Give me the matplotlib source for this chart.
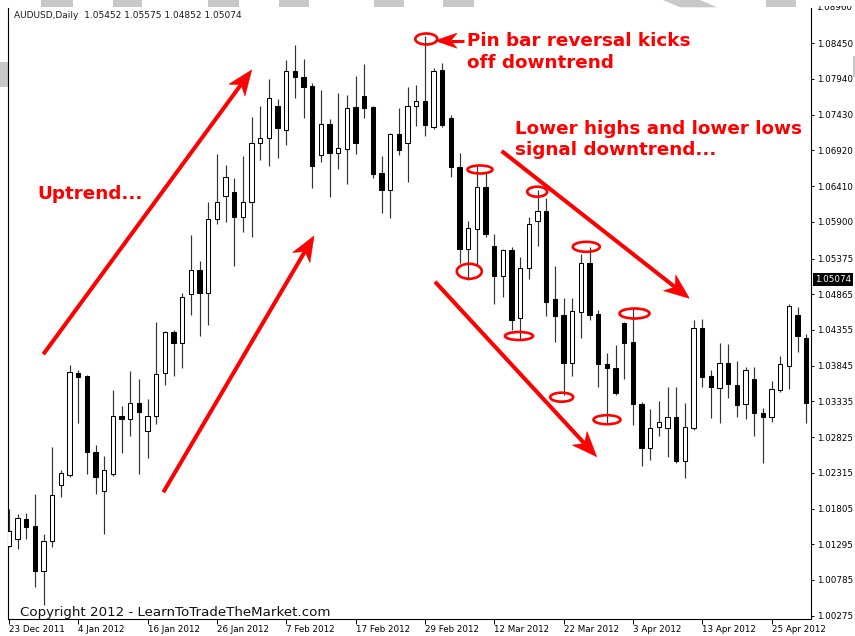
import matplotlib
matplotlib.use('Agg')
import matplotlib.pyplot as plt
from matplotlib.patches import Ellipse, Polygon, Rectangle
from matplotlib.lines import Line2D
from matplotlib.transforms import Affine2D
import numpy as np

W, H = 855, 636

# ---------------- data (AUDUSD daily) ----------------
opens = [1.01270, 1.01370, 1.01656, 1.01556, 1.00913, 1.01341, 1.02141, 1.02284, 1.03741, 1.03698,
         1.02613, 1.02056, 1.02298, 1.03127, 1.03084, 1.03312, 1.02913, 1.03127, 1.03741, 1.04326,
         1.04169, 1.04869, 1.05212, 1.04883, 1.05940, 1.06269, 1.06326, 1.05969, 1.06183, 1.07026,
         1.07097, 1.07554, 1.07211, 1.08054, 1.07968, 1.07840, 1.06854, 1.07297, 1.06883, 1.06940,
         1.07540, 1.07697, 1.07540, 1.06597, 1.06354, 1.07154, 1.07026, 1.07554, 1.07626, 1.07254,
         1.08068, 1.07383, 1.06683, 1.05512, 1.05797, 1.06397, 1.05555, 1.05126, 1.05498, 1.04526,
         1.05240, 1.05912, 1.06055, 1.04798, 1.04569, 1.03884, 1.04612, 1.05312, 1.04584, 1.03869,
         1.03812, 1.04455, 1.04184, 1.03299, 1.02670, 1.02970, 1.02955, 1.03112, 1.02484, 1.02955,
         1.04384, 1.03698, 1.03527, 1.03884, 1.03569, 1.03299, 1.03655, 1.03170, 1.03112, 1.03498,
         1.03841, 1.04569, 1.04241]
highs = [1.01799, 1.01727, 1.01741, 1.02013, 1.01441, 1.02684, 1.02356, 1.03855, 1.03784, 1.03712,
         1.02713, 1.02555, 1.03498, 1.03270, 1.03769, 1.03655, 1.03370, 1.04469, 1.04341, 1.04355,
         1.04883, 1.05712, 1.05340, 1.06183, 1.06869, 1.06712, 1.06526, 1.06840, 1.07397, 1.07554,
         1.07940, 1.07654, 1.08211, 1.08425, 1.08225, 1.07883, 1.07783, 1.07368, 1.07740, 1.07711,
         1.07983, 1.08154, 1.07554, 1.06840, 1.07169, 1.07526, 1.07826, 1.07854, 1.08554, 1.08097,
         1.08168, 1.07426, 1.06883, 1.05912, 1.06697, 1.06612, 1.05726, 1.05512, 1.05540, 1.05398,
         1.05969, 1.06354, 1.06240, 1.05269, 1.04812, 1.04812, 1.05440, 1.05540, 1.04641, 1.04027,
         1.04141, 1.04469, 1.04669, 1.03327, 1.03227, 1.03341, 1.03541, 1.03541, 1.03312, 1.04498,
         1.04512, 1.03784, 1.04169, 1.04155, 1.03912, 1.03827, 1.03827, 1.03241, 1.03627, 1.03984,
         1.04726, 1.04683, 1.04298]
lows = [1.01256, 1.01227, 1.01370, 1.00685, 1.00427, 1.01256, 1.01970, 1.02256, 1.03027, 1.02298,
        1.02013, 1.01441, 1.02270, 1.02598, 1.02841, 1.02298, 1.02527, 1.03012, 1.03569, 1.03698,
        1.03812, 1.04569, 1.04269, 1.04426, 1.05869, 1.05897, 1.05269, 1.05755, 1.05683, 1.06783,
        1.06697, 1.06811, 1.06997, 1.07668, 1.07383, 1.06383, 1.06754, 1.06254, 1.06654, 1.06440,
        1.06869, 1.07383, 1.06526, 1.06026, 1.05955, 1.06854, 1.06469, 1.07269, 1.07126, 1.07226,
        1.07254, 1.06540, 1.05312, 1.05069, 1.05269, 1.05683, 1.04726, 1.04826, 1.04355, 1.04226,
        1.05083, 1.05555, 1.04555, 1.04184, 1.03427, 1.03698, 1.04241, 1.04498, 1.03541, 1.03027,
        1.03427, 1.03655, 1.02998, 1.02413, 1.02498, 1.02841, 1.02541, 1.02455, 1.02241, 1.02927,
        1.03541, 1.03098, 1.03027, 1.03384, 1.03112, 1.03084, 1.02841, 1.02455, 1.03041, 1.03470,
        1.03512, 1.04041, 1.03027]
closes = [1.01484, 1.01670, 1.01541, 1.00913, 1.01341, 1.01998, 1.02313, 1.03755, 1.03684, 1.02613,
          1.02256, 1.02356, 1.03127, 1.03084, 1.03312, 1.03184, 1.03127, 1.03727, 1.04326, 1.04169,
          1.04826, 1.05212, 1.04883, 1.05940, 1.06183, 1.06540, 1.05969, 1.06183, 1.07026, 1.07097,
          1.07668, 1.07240, 1.08054, 1.07968, 1.07826, 1.06697, 1.07297, 1.06883, 1.06954, 1.07526,
          1.07026, 1.07526, 1.06583, 1.06354, 1.07154, 1.06926, 1.07554, 1.07626, 1.07283, 1.08054,
          1.07283, 1.06683, 1.05512, 1.05812, 1.06397, 1.05726, 1.05126, 1.05498, 1.04498, 1.05240,
          1.05869, 1.06055, 1.04755, 1.04555, 1.03884, 1.04626, 1.05312, 1.04569, 1.03869, 1.03812,
          1.03455, 1.04169, 1.03299, 1.02670, 1.02955, 1.03041, 1.03112, 1.02484, 1.02970, 1.04384,
          1.03684, 1.03541, 1.03884, 1.03584, 1.03284, 1.03784, 1.03170, 1.03112, 1.03512, 1.03869,
          1.04698, 1.04269, 1.03312]

date_labels = ['23 Dec 2011', '4 Jan 2012', '16 Jan 2012', '26 Jan 2012', '7 Feb 2012',
               '17 Feb 2012', '29 Feb 2012', '12 Mar 2012', '22 Mar 2012', '3 Apr 2012',
               '13 Apr 2012', '25 Apr 2012']
date_label_bars = [0, 8, 16, 24, 32, 40, 48, 56, 64, 72, 80, 88]
price_ticks = [1.08450, 1.07940, 1.07430, 1.06920, 1.06410, 1.05900, 1.05375, 1.04865,
               1.04355, 1.03845, 1.03335, 1.02825, 1.02315, 1.01805, 1.01295, 1.00785, 1.00275]
top_tick_label = '1.08960'
header_text = 'AUDUSD,Daily  1.05452 1.05575 1.04852 1.05074'
last_price = '1.05074'
copyright_text = 'Copyright 2012 - LearnToTradeTheMarket.com'

# ---------------- figure ----------------
fig = plt.figure(figsize=(W / 100, H / 100), dpi=100)
fig.patch.set_facecolor('white')
PX = Affine2D().scale(1 / W, -1 / H).translate(0, 1) + fig.transFigure

ax = fig.add_axes([8 / W, 1 - 619 / H, 803 / W, 611 / H])
ax.set_xlim(-0.115, 92.54)
ax.set_ylim(1.00227, 1.08954)

x = np.arange(len(opens))
o = np.array(opens); c = np.array(closes); hi = np.array(highs); lo = np.array(lows)
ax.vlines(x, lo, hi, color='#333333', lw=0.85, zorder=2)
up = c >= o
bottom = np.minimum(o, c)
height = np.abs(c - o)
ax.bar(x, height, bottom=bottom, width=0.5,
       color=np.where(up, 'white', 'black'), edgecolor='black', lw=0.75, zorder=3)

ax.spines['top'].set_visible(False)
for s in ['left', 'right', 'bottom']:
    ax.spines[s].set_linewidth(0.8)
    ax.spines[s].set_color('black')

ax.yaxis.tick_right()
ax.set_yticks(price_ticks)
ax.set_yticklabels(['%.5f' % v for v in price_ticks])
ax.tick_params(axis='y', direction='out', length=2.4, width=0.7, pad=1.6,
               labelsize=6.3, colors='black')
ax.set_xticks(date_label_bars)
ax.set_xticklabels(date_labels, ha='left')
ax.tick_params(axis='x', direction='out', length=3.4, width=0.7, pad=0.6,
               labelsize=6.3, colors='black')
ax.tick_params(axis='y', left=False)

# top (clipped) price label
fig.text(816.5 / W, 1 - 7.6 / H, top_tick_label, fontsize=6.3, va='center', ha='left')
fig.add_artist(Rectangle((812, 0), 43, 5.5, transform=PX, fc='white', ec='none', zorder=5))

# current price box
fig.text(815 / W, 1 - 279.5 / H, last_price, fontsize=6.3, va='center', ha='left', color='white',
         bbox=dict(boxstyle='square,pad=0.22', fc='black', ec='none'))

# header and copyright
fig.text(14 / W, 1 - 15.5 / H, header_text, fontsize=6.5, va='center', ha='left', color='#1a1a1a')
fig.text(20 / W, 1 - 616 / H, copyright_text, fontsize=9.6, va='baseline', ha='left', color='#111111')

# watermark fragments
grey = '#c8c8c8'
for (x0, x1) in [(40.7, 72.7), (113, 142), (208, 239), (279, 309), (374, 404), (443, 474), (766, 796)]:
    fig.add_artist(Rectangle((x0, 0), x1 - x0, 7.3, transform=PX, fc=grey, ec='none', zorder=0))
fig.add_artist(Polygon([(663, 0), (700, 0), (717, 7.3), (680, 7.3)], closed=True, transform=PX,
                       fc=grey, ec='none', zorder=0))
fig.add_artist(Rectangle((0, 62), 7.5, 25, transform=PX, fc=grey, ec='none', zorder=0))
fig.add_artist(Rectangle((852.5, 56), 3, 21, transform=PX, fc=grey, ec='none', zorder=0))

# ---------------- red annotations ----------------
RED = '#ff0000'


def red_arrow(x0, y0, x1, y1, lw=2.9, L=25, hw=10):
    d = np.array([x1 - x0, y1 - y0], float)
    d /= np.hypot(*d)
    n = np.array([-d[1], d[0]])
    tip = np.array([x1, y1], float)
    base = tip - L * d
    notch = tip - 0.72 * L * d
    fig.add_artist(Line2D([x0, notch[0]], [y0, notch[1]], transform=PX, color=RED, lw=lw,
                          solid_capstyle='butt', zorder=6))
    fig.add_artist(Polygon([tip, base + hw * n, notch, base - hw * n], closed=True, transform=PX,
                           fc=RED, ec=RED, lw=0.4, zorder=6))


red_arrow(43.3, 354.3, 251.7, 70)
red_arrow(163.3, 492.3, 314, 236)
red_arrow(435, 281.7, 596.7, 456.7)
red_arrow(501.7, 151, 689.3, 298.3)
red_arrow(464, 40.7, 435, 40.7, lw=2.2, L=22, hw=7.5)

for (cx, cy, w, h) in [(426.3, 39, 22, 11), (480, 169.5, 25, 8), (469.3, 271.3, 25, 15),
                       (537.2, 191.7, 20, 10), (519, 336, 28, 8), (586.3, 246.8, 27, 10),
                       (561.7, 397.2, 23, 9), (607, 419.7, 27, 9), (634.5, 313.5, 30, 10)]:
    fig.add_artist(Ellipse((cx, cy), w, h, transform=PX, fill=False, ec=RED, lw=1.9, zorder=6))

tk = dict(color=RED, fontsize=13.2, fontweight='bold', va='baseline', ha='left', zorder=7)
fig.text(37 / W, 1 - 199 / H, 'Uptrend...', **tk)
fig.text(467 / W, 1 - 46 / H, 'Pin bar reversal kicks', **tk)
fig.text(467 / W, 1 - 67.5 / H, 'off downtrend', **tk)
fig.text(515 / W, 1 - 134.3 / H, 'Lower highs and lower lows', **tk)
fig.text(515 / W, 1 - 155.3 / H, 'signal downtrend...', **tk)

fig.savefig('out.png', dpi=100)
